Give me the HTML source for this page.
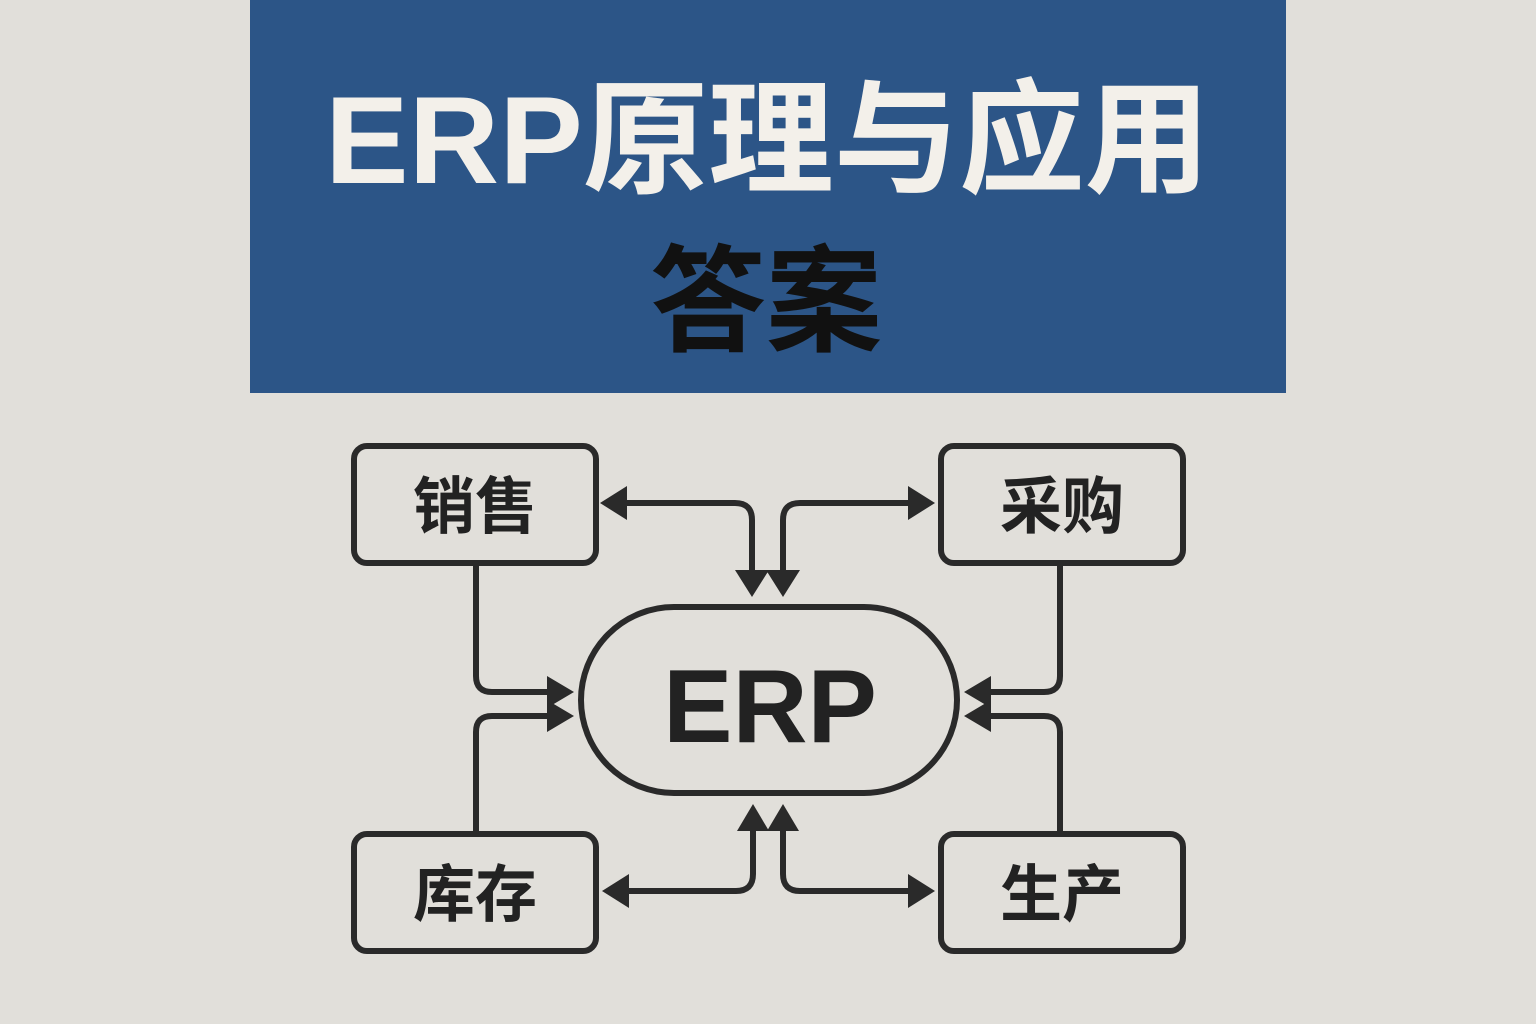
<!DOCTYPE html>
<html><head><meta charset="utf-8"><style>
html,body{margin:0;padding:0;background:#e1dfda;}
svg{display:block}
</style></head><body>
<svg width="1536" height="1024" viewBox="0 0 1536 1024" xmlns="http://www.w3.org/2000/svg">
<rect width="1536" height="1024" fill="#e1dfda"/>
<rect x="250" y="0" width="1036" height="393" fill="#2c5587"/>
<text x="325" y="183" textLength="885" lengthAdjust="spacingAndGlyphs" font-family="'Liberation Sans','Noto Sans CJK SC',sans-serif" font-weight="bold" font-size="124" fill="#f3f0ea">ERP原理与应用</text>
<text x="766" y="342" text-anchor="middle" font-family="'Noto Sans CJK SC',sans-serif" font-weight="bold" font-size="116" fill="#111">答案</text>
<g fill="none" stroke="#2a2a2a" stroke-width="6">
<rect x="354" y="446" width="242" height="117" rx="13"/>
<rect x="941" y="446" width="242" height="117" rx="13"/>
<rect x="354" y="834" width="242" height="117" rx="13"/>
<rect x="941" y="834" width="242" height="117" rx="13"/>
<rect x="581" y="607" width="376" height="186" rx="93"/>
<path d="M625 503 H735 Q752 503 752 520 V572"/>
<path d="M783 572 V520 Q783 503 800 503 H912"/>
<path d="M476 563 V676 Q476 692 492 692 H550"/>
<path d="M476 833 V732 Q476 716 492 716 H550"/>
<path d="M1060 563 V676 Q1060 692 1044 692 H988"/>
<path d="M1060 833 V732 Q1060 716 1044 716 H988"/>
<path d="M753 830 V874 Q753 891 736 891 H625"/>
<path d="M783 830 V874 Q783 891 800 891 H912"/>
</g>
<g fill="#2a2a2a">
<polygon points="600,503 627,486 627,520"/>
<polygon points="935,503 908,486 908,520"/>
<polygon points="752,597 735,570 769,570"/>
<polygon points="783,597 766,570 800,570"/>
<polygon points="574,692 547,676 547,708"/>
<polygon points="574,716 547,700 547,732"/>
<polygon points="964,692 991,676 991,708"/>
<polygon points="964,716 991,700 991,732"/>
<polygon points="753,804 737,831 769,831"/>
<polygon points="783,804 767,831 799,831"/>
<polygon points="602,891 629,874 629,908"/>
<polygon points="935,891 908,874 908,908"/>
</g>
<g font-family="'Noto Sans CJK SC',sans-serif" font-weight="bold" font-size="62" fill="#222" text-anchor="middle">
<text x="475" y="528">销售</text>
<text x="1062" y="528">采购</text>
<text x="475" y="916">库存</text>
<text x="1062" y="916">生产</text>
</g>
<text x="770" y="742" text-anchor="middle" font-family="'Liberation Sans',sans-serif" font-weight="bold" font-size="104" fill="#222">ERP</text>
</svg>
</body></html>
